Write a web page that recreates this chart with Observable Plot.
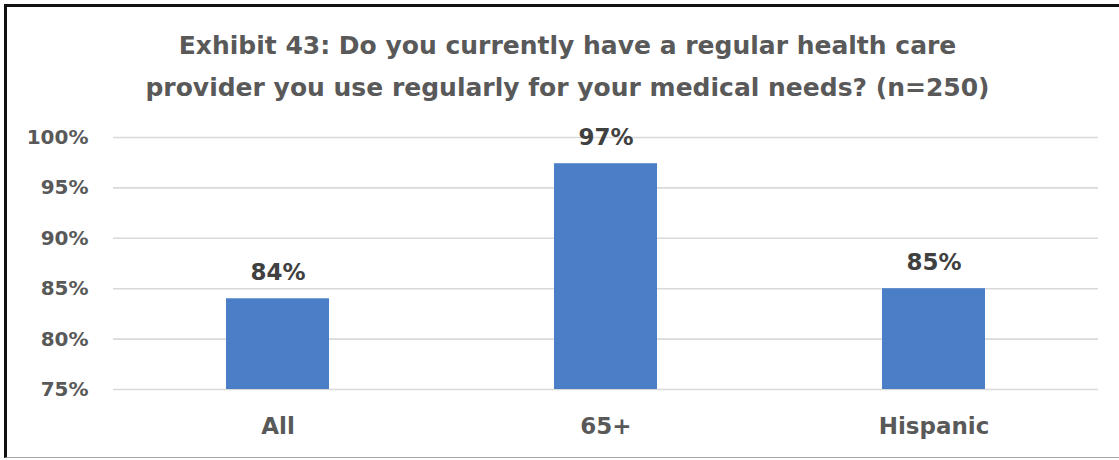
<!DOCTYPE html>
<html>
<head>
<meta charset="utf-8">
<script src="https://cdn.jsdelivr.net/npm/d3@7"></script>
<script src="https://cdn.jsdelivr.net/npm/@observablehq/plot@0.6"></script>
<style>
  html, body { margin: 0; padding: 0; background: #fff; width: 1119px; height: 460px; overflow: hidden; }
  #frame { position: absolute; left: 4px; top: 4px; width: 1200px; height: 454px;
           border-left: 3px solid #111; border-top: 3px solid #111; border-bottom: 1px solid #a6a6a6; box-sizing: border-box; }
  #wrap { position: relative; width: 1119px; height: 460px; }
  #title { position: relative; margin: 0; padding-top: 25px; width: 1119px; text-align: center;
           font-family: "DejaVu Sans", sans-serif; font-weight: bold; font-size: 25px; line-height: 42px; color: #595959; }
  #title div { transform: translateX(8px); }
  #chart { position: relative; }
  #chart svg { display: block; }
</style>
</head>
<body>
<div id="wrap">
  <div id="frame"></div>
  <div id="title"><div>Exhibit 43: Do you currently have a regular health care<br>provider you use regularly for your medical needs? (n=250)</div></div>
  <div id="chart"></div>
</div>
<script>
const categories = ["All", "65+", "Hispanic"];
const values = [0.84, 0.974, 0.85];
const valueLabels = ["84%", "97%", "85%"];
const yTicks = [0.75, 0.80, 0.85, 0.90, 0.95, 1.00];

const data = categories.map((c, i) => ({category: c, value: values[i], label: valueLabels[i]}));

const chart = Plot.plot({
  width: 1119,
  height: 351,
  marginTop: 28,
  marginBottom: 71,
  marginLeft: 113,
  marginRight: 21,
  style: {fontFamily: "DejaVu Sans, sans-serif", background: "transparent", overflow: "visible"},
  x: {domain: categories, paddingInner: 0.686, paddingOuter: 0.343, label: null},
  y: {domain: [0.75, 1.0], label: null},
  marks: [
    Plot.gridY(yTicks, {stroke: "#d9d9d9", strokeOpacity: 1, strokeWidth: 1.6}),
    Plot.barY(data, {x: "category", y1: 0.75, y2: "value", fill: "#4a7fc8"}),
    Plot.text(data, {x: "category", y: "value", text: "label", dy: -26, fontSize: 23, fontWeight: "bold", fill: "#404040"}),
    Plot.axisY(yTicks, {tickFormat: d => Math.round(d * 100) + "%", tickSize: 0, tickPadding: 25, fontSize: 20, fontWeight: "bold", fill: "#595959"}),
    Plot.axisX({tickSize: 0, tickPadding: 28, fontSize: 23, fontWeight: "bold", fill: "#595959"})
  ]
});
document.getElementById("chart").appendChild(chart);
</script>
</body>
</html>
